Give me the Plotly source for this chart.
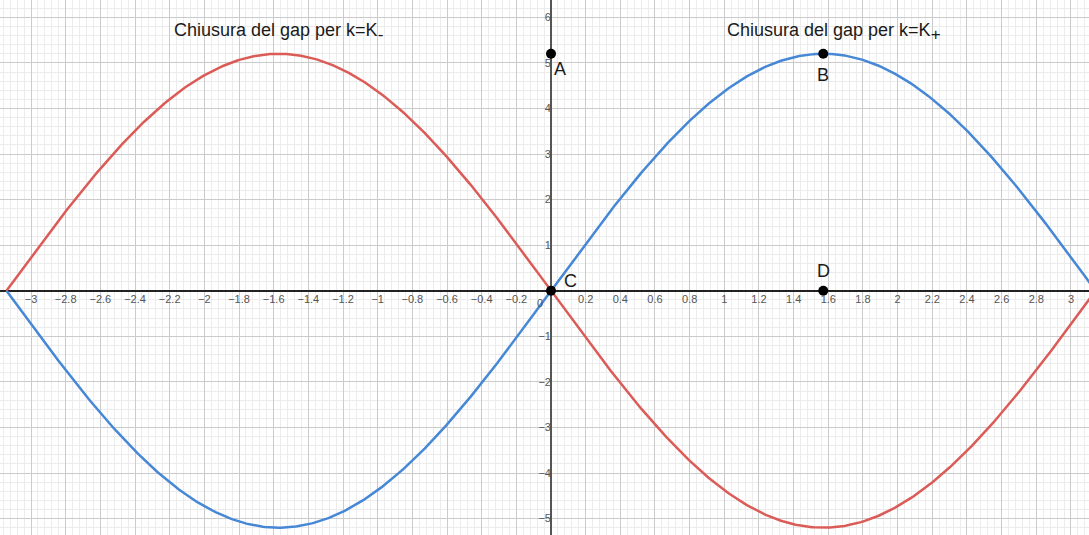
import numpy as np
import plotly.graph_objects as go

# Band functions: E(k) = ±AMPLITUDE·sin(k) over the first Brillouin zone
AMPLITUDE = 5.2
K_MIN, K_MAX = -np.pi, np.pi

# Labelled points
POINT_NAMES = ["A", "B", "C", "D"]
POINT_X = [0.0, np.pi / 2, 0.0, np.pi / 2]
POINT_Y = [5.2, 5.2, 0.0, 0.0]

# Axis tick labels (origin labelled separately)
X_TICKS = [-3.0, -2.8, -2.6, -2.4, -2.2, -2.0, -1.8, -1.6, -1.4, -1.2, -1.0,
           -0.8, -0.6, -0.4, -0.2, 0.2, 0.4, 0.6, 0.8, 1.0, 1.2, 1.4, 1.6,
           1.8, 2.0, 2.2, 2.4, 2.6, 2.8, 3.0]
Y_TICKS = [-5, -4, -3, -2, -1, 1, 2, 3, 4, 5, 6]

SUB_STYLE = "font-size:17px"
TITLES = [f"Chiusura del gap per k=K<sub><span style='{SUB_STYLE}'>-</span></sub>",
          f"Chiusura del gap per k=K<sub><span style='{SUB_STYLE}'>+</span></sub>"]
TITLE_X = [-1.575, 1.635]
TITLE_Y = [5.67, 5.67]

X_RANGE = [-3.179, 3.104]
Y_RANGE = [-5.36, 6.38]

BLUE = "#4687d6"
RED = "#db5b57"
FONT = "Liberation Sans, Arial, sans-serif"


def fmt(v):
    s = f"{v:g}"
    return s.replace("-", "\u2212")


k = np.linspace(K_MIN, K_MAX, 600)
upper = AMPLITUDE * np.sin(k)
lower = -AMPLITUDE * np.sin(k)

fig = go.Figure()
fig.add_trace(go.Scatter(x=k, y=upper, mode="lines",
                         line=dict(color=BLUE, width=2.5), hoverinfo="skip"))
fig.add_trace(go.Scatter(x=k, y=lower, mode="lines",
                         line=dict(color=RED, width=2.5), hoverinfo="skip"))
fig.add_trace(go.Scatter(x=POINT_X, y=POINT_Y, mode="markers",
                         marker=dict(color="black", size=10), hoverinfo="skip"))

# point labels: offsets in pixels relative to each point
label_offsets = {"A": (9, -15), "B": (0, -21), "C": (19, 10), "D": (0, 20)}
for name, px, py in zip(POINT_NAMES, POINT_X, POINT_Y):
    dx, dy = label_offsets[name]
    fig.add_annotation(x=px, y=py, text=name, showarrow=False,
                       xshift=dx, yshift=dy,
                       font=dict(family=FONT, size=18, color="#1a1a1a"))

for t, tx, ty in zip(TITLES, TITLE_X, TITLE_Y):
    fig.add_annotation(x=tx, y=ty, text=t, showarrow=False,
                       font=dict(family=FONT, size=18, color="#1a1a1a"))

# origin label
fig.add_annotation(x=0, y=0, text="0", showarrow=False, xanchor="right",
                   yanchor="top", xshift=-6, yshift=-4,
                   font=dict(family=FONT, size=11, color="#555555"))

x_pos = (0 - Y_RANGE[0]) / (Y_RANGE[1] - Y_RANGE[0])
y_pos = (0 - X_RANGE[0]) / (X_RANGE[1] - X_RANGE[0])

fig.update_layout(
    width=1089, height=535,
    margin=dict(l=0, r=0, t=0, b=0),
    paper_bgcolor="white", plot_bgcolor="white",
    showlegend=False,
    xaxis=dict(
        range=X_RANGE, anchor="free", position=x_pos, automargin=False,
        tickmode="array", tickvals=X_TICKS, ticktext=[fmt(v) for v in X_TICKS],
        ticks="", showline=False,
        tickfont=dict(family=FONT, size=11, color="#555555"),
        showgrid=True, gridcolor="#cbcbcb", gridwidth=1,
        zeroline=True, zerolinecolor="#555555", zerolinewidth=1.5,
        minor=dict(tickmode="linear", tick0=0, dtick=0.04, showgrid=True,
                   gridcolor="#ececec", gridwidth=1, ticks=""),
    ),
    yaxis=dict(
        range=Y_RANGE, anchor="free", position=y_pos, automargin=False,
        tickmode="array", tickvals=Y_TICKS, ticktext=[fmt(v) for v in Y_TICKS],
        ticks="", showline=False,
        tickfont=dict(family=FONT, size=11, color="#555555"),
        showgrid=True, gridcolor="#cbcbcb", gridwidth=1,
        zeroline=True, zerolinecolor="#222222", zerolinewidth=1.5,
        minor=dict(tickmode="linear", tick0=0, dtick=0.2, showgrid=True,
                   gridcolor="#ececec", gridwidth=1, ticks=""),
    ),
)

fig.write_html("out.html")
